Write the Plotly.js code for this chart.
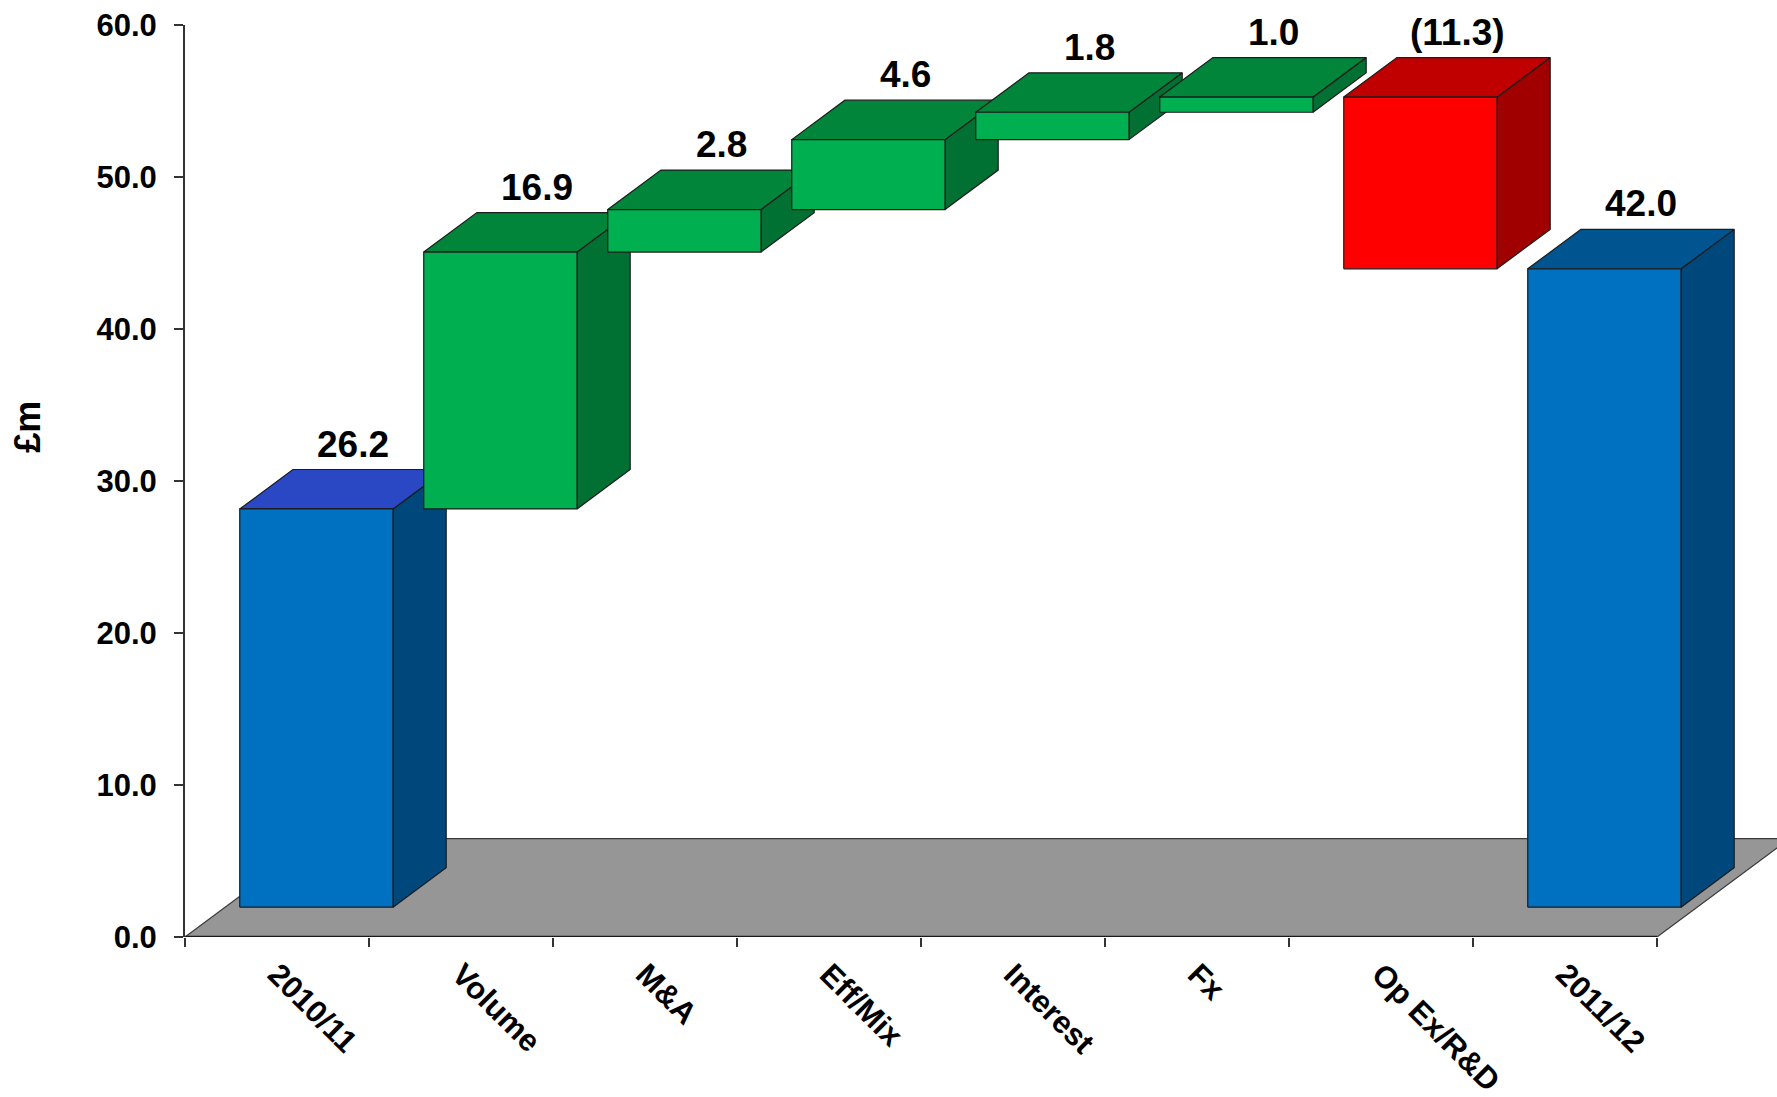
<!DOCTYPE html>
<html>
<head>
<meta charset="utf-8">
<script src="https://cdn.plot.ly/plotly-3.0.1.min.js"></script>
<style>html,body{margin:0;padding:0;background:#fff;}</style>
</head>
<body>
<div id="chart" style="width:1777px;height:1097px;"></div>
<script>
// ---- data ----
const categories = ['2010/11', 'Volume', 'M&A', 'Eff/Mix', 'Interest', 'Fx', 'Op Ex/R&D', '2011/12'];
const changes    = [26.2, 16.9, 2.8, 4.6, 1.8, 1.0, -11.3, 42.0];
const kinds      = ['total', 'delta', 'delta', 'delta', 'delta', 'delta', 'delta', 'total'];
const yTickValues = [0, 10, 20, 30, 40, 50, 60];
const yAxisLabel = '£m';

// ---- style / projection constants ----
const FONT = 'Arial, "Liberation Sans", sans-serif';
const BAR_W = 0.833;            // bar width in category units
const FRONT_DX = 0.214, FRONT_DY = 1.96;  // front plane of bars relative to axis plane
const DEPTH_DX = 0.289, DEPTH_DY = 2.595; // bar depth projection
const FLOOR_DX = 0.72, FLOOR_DY = 6.47;   // floor depth projection
const colors = {
  total: {front: '#0070C0', side: '#00477C', tops: ['#2A48C4', '#00548F']},
  up:    {front: '#00B050', side: '#007033', top: '#00853A'},
  down:  {front: '#FF0000', side: '#A00000', top: '#C00000'}
};
const EDGE = '#1c1c1c';

// ---- waterfall geometry from data ----
let running = 0;
const lows = [], highs = [];
changes.forEach((v, i) => {
  if (kinds[i] === 'total') {
    lows.push(0); highs.push(v); running = v;
  } else {
    const next = running + v;
    lows.push(Math.min(running, next)); highs.push(Math.max(running, next));
    running = next;
  }
});

const traces = [];
function poly(xs, ys, fill, lineColor, lw) {
  traces.push({
    type: 'scatter', mode: 'lines', fill: 'toself',
    x: xs.concat([xs[0]]), y: ys.concat([ys[0]]),
    fillcolor: fill, line: {color: lineColor, width: lw},
    hoverinfo: 'skip', showlegend: false
  });
}

// floor
const nCat = categories.length;
poly([0, nCat, nCat + FLOOR_DX, FLOOR_DX], [0, 0, FLOOR_DY, FLOOR_DY], '#969696', '#3a3a3a', 1.2);
traces.push({type: 'scatter', mode: 'lines', x: [0, nCat], y: [0, 0],
  line: {color: '#1a1a1a', width: 2.5}, hoverinfo: 'skip', showlegend: false});

let totalIdx = 0;
const annotations = [];
categories.forEach((c, i) => {
  let style, top;
  if (kinds[i] === 'total') { style = colors.total; top = colors.total.tops[totalIdx++]; }
  else if (changes[i] >= 0) { style = colors.up; top = style.top; }
  else { style = colors.down; top = style.top; }
  const cx = i + 0.5 + FRONT_DX;
  const x0 = cx - BAR_W / 2, x1 = cx + BAR_W / 2;
  const y0 = lows[i] + FRONT_DY, y1 = highs[i] + FRONT_DY;
  // side
  poly([x1, x1 + DEPTH_DX, x1 + DEPTH_DX, x1], [y0, y0 + DEPTH_DY, y1 + DEPTH_DY, y1], style.side, EDGE, 1.2);
  // top
  poly([x0, x1, x1 + DEPTH_DX, x0 + DEPTH_DX], [y1, y1, y1 + DEPTH_DY, y1 + DEPTH_DY], top, EDGE, 1.2);
  // front
  poly([x0, x1, x1, x0], [y0, y0, y1, y1], style.front, EDGE, 1.2);

  const v = changes[i];
  const txt = v < 0 ? '(' + Math.abs(v).toFixed(1) + ')' : v.toFixed(1);
  annotations.push({
    x: cx + 0.2, y: y1 + DEPTH_DY, xref: 'x', yref: 'y',
    text: txt, showarrow: false, xanchor: 'center', yanchor: 'bottom', yshift: 3,
    font: {family: FONT, size: 37, color: '#000', weight: 'bold'}
  });
});

// dummy trace so the label axis exists
traces.push({type: 'scatter', mode: 'none', x: categories.map((c, i) => i + 0.5),
  y: categories.map(() => 0), xaxis: 'x2', yaxis: 'y', hoverinfo: 'skip', showlegend: false});

annotations.push({
  text: yAxisLabel, xref: 'paper', yref: 'paper', x: -0.099, y: 0.56,
  showarrow: false, textangle: -90, xanchor: 'center', yanchor: 'middle',
  font: {family: FONT, size: 36, color: '#000', weight: 'bold'}
});

const xMax = (1777 - 185) / 184;
const layout = {
  width: 1777, height: 1097, autosize: false,
  margin: {l: 185, r: 0, t: 25, b: 160},
  paper_bgcolor: '#ffffff', plot_bgcolor: '#ffffff',
  showlegend: false,
  xaxis: {
    range: [0, xMax], showgrid: false, zeroline: false, showline: false,
    tickvals: categories.map((c, i) => i).concat([nCat]),
    ticktext: categories.map(() => '').concat(['']),
    ticks: 'outside', ticklen: 9, tickwidth: 1.5, tickcolor: '#333',
    fixedrange: true
  },
  xaxis2: {
    overlaying: 'x', anchor: 'y', side: 'bottom', range: [0, xMax],
    showgrid: false, zeroline: false, showline: false, ticks: '',
    tickvals: categories.map((c, i) => i + 0.5), ticktext: categories,
    tickangle: 45, ticklabelstandoff: 12,
    tickfont: {family: FONT, size: 31, color: '#000', weight: 'bold'},
    fixedrange: true
  },
  yaxis: {
    range: [0, 60], showgrid: false, zeroline: false,
    showline: true, linecolor: '#333', linewidth: 2,
    tickvals: yTickValues, tickformat: '.1f',
    ticks: 'outside', ticklen: 9, tickwidth: 1.5, tickcolor: '#333',
    tickfont: {family: FONT, size: 31, color: '#000', weight: 'bold'},
    ticklabelstandoff: 11,
    fixedrange: true
  },
  annotations: annotations
};

Plotly.newPlot('chart', traces, layout, {displayModeBar: false, staticPlot: true});
</script>
</body>
</html>
